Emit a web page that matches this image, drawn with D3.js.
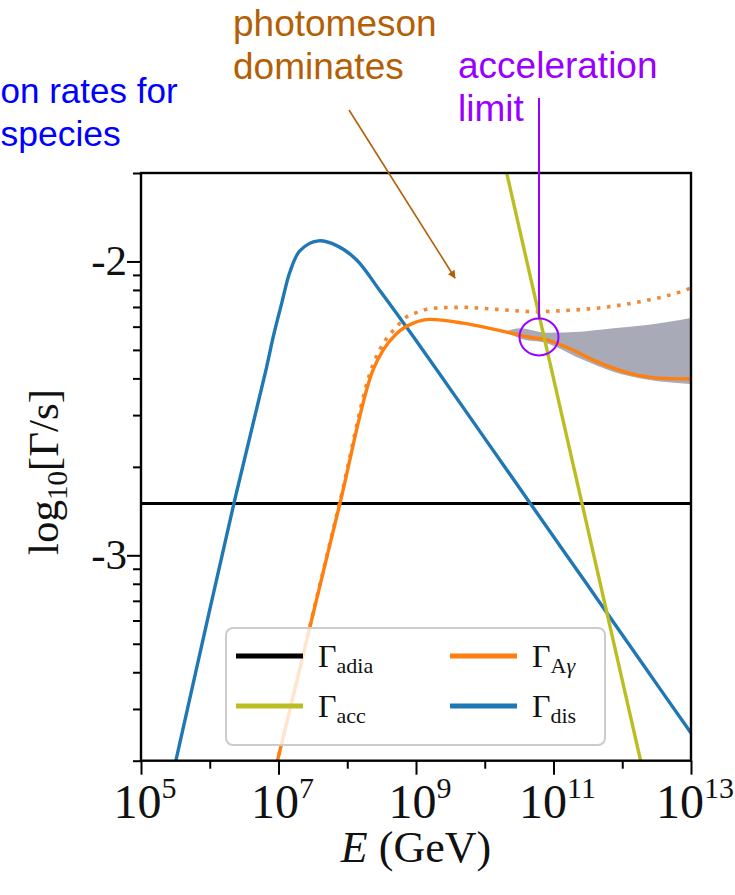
<!DOCTYPE html>
<html>
<head>
<meta charset="utf-8">
<script src="https://cdn.jsdelivr.net/npm/d3@7"></script>
<style>
  html, body { margin: 0; padding: 0; background: #fff; }
  svg { display: block; }
</style>
</head>
<body>
<svg id="chart" width="735" height="895"></svg>
<script>
// ---- data (log10 of energy in GeV, log10 of rate in 1/s) ----
const disLogE = [5.40, 5.509, 6.353, 6.818, 6.924, 7.047, 7.167, 7.313, 7.579, 7.847, 8.137, 8.476, 8.826, 9.204, 10.0, 10.658, 11.5, 12.3, 13.0];
const disLogG = [-3.81, -3.697, -2.822, -2.369, -2.256, -2.142, -2.035, -1.963, -1.930, -1.946, -1.995, -2.100, -2.212, -2.336, -2.602, -2.822, -3.103, -3.371, -3.605];

const accLogE = [10.0, 12.6];
const accLogG = [-1.371, -4.041];

const agLogE = [6.90, 6.985, 7.483, 7.895, 8.375, 8.524, 8.719, 8.961, 9.204, 9.688, 10.174, 10.658, 10.901, 11.192, 11.628, 12.113, 12.597, 13.0];
const agLogG = [-3.781, -3.699, -3.219, -2.822, -2.369, -2.301, -2.245, -2.210, -2.197, -2.210, -2.233, -2.258, -2.267, -2.292, -2.341, -2.381, -2.398, -2.400];

const agMaxLogE = [6.90, 6.985, 7.483, 7.895, 8.375, 8.524, 8.719, 8.865, 8.985, 9.252, 9.688, 10.174, 10.779, 11.095, 11.628, 12.258, 12.888, 13.0];
const agMaxLogG = [-3.781, -3.699, -3.215, -2.815, -2.350, -2.279, -2.222, -2.188, -2.176, -2.159, -2.156, -2.163, -2.171, -2.168, -2.159, -2.137, -2.100, -2.090];

const bandLogE = [10.295, 10.513, 10.901, 11.386, 11.870, 12.356, 13.0];
const bandLoLogG = [-2.239, -2.262, -2.278, -2.330, -2.375, -2.402, -2.417];
const bandHiLogG = [-2.239, -2.2275, -2.2425, -2.239, -2.2275, -2.216, -2.192];

const adiaLogE = [5, 13];
const adiaLogG = [-2.824, -2.824];

const xMajorExp = [5, 7, 9, 11, 13];
const xMinorExp = [6, 8, 10, 12];
const yMajorExp = [-2, -3];

const legendItems = [
  { key: ["adia"], color: "#000000" },
  { key: ["A", "γ"], color: "#ff7f0e" },
  { key: ["acc"], color: "#bcbd22" },
  { key: ["dis"], color: "#1f77b4" }
];

// ---- layout ----
const svg = d3.select("#chart");
const plot = { left: 141, right: 691, top: 173, bottom: 760.7 };

const x = d3.scaleLog().domain([1e5, 1e13]).range([plot.left, plot.right]);
const y = d3.scaleLog().domain([2e-4, 2e-2]).range([plot.bottom, plot.top]);

const p10 = v => Math.pow(10, v);
const zipPts = (ex, ey) => ex.map((e, i) => [p10(e), p10(ey[i])]);

const defs = svg.append("defs");
defs.append("clipPath").attr("id", "plotClip")
  .append("rect")
  .attr("x", plot.left).attr("y", plot.top)
  .attr("width", plot.right - plot.left).attr("height", plot.bottom - plot.top);

const g = svg.append("g").attr("clip-path", "url(#plotClip)");

const line = d3.line().x(d => x(d[0])).y(d => y(d[1])).curve(d3.curveMonotoneX);
const smooth = d3.line().x(d => x(d[0])).y(d => y(d[1])).curve(d3.curveCatmullRom.alpha(0.5));

// uncertainty band of the photomeson rate
const band = bandLogE.map((e, i) => ({ e: p10(e), lo: p10(bandLoLogG[i]), hi: p10(bandHiLogG[i]) }));
g.append("path")
  .datum(band)
  .attr("fill", "#a9aab7")
  .attr("d", d3.area().x(d => x(d.e)).y0(d => y(d.lo)).y1(d => y(d.hi)).curve(d3.curveMonotoneX));

// adiabatic rate
g.append("path").datum(zipPts(adiaLogE, adiaLogG))
  .attr("fill", "none").attr("stroke", "#000").attr("stroke-width", 3)
  .attr("d", d3.line().x(d => x(d[0])).y(d => y(d[1])));

// disintegration rate
g.append("path").datum(zipPts(disLogE, disLogG))
  .attr("fill", "none").attr("stroke", "#1f77b4").attr("stroke-width", 3.4)
  .attr("d", smooth);

// photomeson rate (upper, dotted)
g.append("path").datum(zipPts(agMaxLogE, agMaxLogG))
  .attr("fill", "none").attr("stroke", "#ef8a3c").attr("stroke-width", 3.6)
  .attr("stroke-dasharray", "3.6,6.6")
  .attr("d", line);

// photomeson rate
g.append("path").datum(zipPts(agLogE, agLogG))
  .attr("fill", "none").attr("stroke", "#ff7f0e").attr("stroke-width", 3.4)
  .attr("d", line);

// acceleration rate
g.append("path").datum(zipPts(accLogE, accLogG))
  .attr("fill", "none").attr("stroke", "#bcbd22").attr("stroke-width", 3.4)
  .attr("d", d3.line().x(d => x(d[0])).y(d => y(d[1])));

// ---- axes ----
const serif = "'Liberation Serif', 'DejaVu Serif', serif";

function styleAxis(sel) {
  sel.select(".domain").remove();
  sel.selectAll(".tick line").attr("stroke", "#000").attr("stroke-width", 2);
  sel.selectAll(".tick text").remove();
}

svg.append("g").attr("transform", `translate(0,${plot.bottom})`)
  .call(d3.axisBottom(x).tickValues(xMajorExp.map(p10)).tickSize(14)).call(styleAxis);
svg.append("g").attr("transform", `translate(0,${plot.bottom})`)
  .call(d3.axisBottom(x).tickValues(xMinorExp.map(p10)).tickSize(8)).call(styleAxis);

const yMinor = [];
[-4, -3, -2].forEach(k => { for (let m = 2; m <= 9; m++) { const v = m * p10(k); if (v >= 2e-4 * 0.999 && v <= 2e-2 * 1.001) yMinor.push(v); } });
svg.append("g").attr("transform", `translate(${plot.left},0)`)
  .call(d3.axisLeft(y).tickValues(yMajorExp.map(p10)).tickSize(14)).call(styleAxis);
svg.append("g").attr("transform", `translate(${plot.left},0)`)
  .call(d3.axisLeft(y).tickValues(yMinor).tickSize(8)).call(styleAxis);

// frame
svg.append("rect")
  .attr("x", plot.left).attr("y", plot.top)
  .attr("width", plot.right - plot.left).attr("height", plot.bottom - plot.top)
  .attr("fill", "none").attr("stroke", "#000").attr("stroke-width", 2.4);

// x tick labels 10^n
xMajorExp.forEach(n => {
  const t = svg.append("text")
    .attr("x", x(p10(n)) + 4).attr("y", 818)
    .attr("text-anchor", "middle")
    .attr("font-family", serif).attr("font-size", 48).attr("fill", "#111");
  t.append("tspan").text("10");
  t.append("tspan").attr("dy", -20).attr("font-size", 30).text(String(n));
});

// y tick labels
yMajorExp.forEach(n => {
  svg.append("text")
    .attr("x", 127).attr("y", y(p10(n)) + 14)
    .attr("text-anchor", "end")
    .attr("font-family", serif).attr("font-size", 43).attr("fill", "#111")
    .text(String(n));
});

// axis titles
const xt = svg.append("text")
  .attr("x", 416).attr("y", 862).attr("text-anchor", "middle")
  .attr("font-family", serif).attr("font-size", 44).attr("fill", "#111");
xt.append("tspan").attr("font-style", "italic").text("E");
xt.append("tspan").text(" (GeV)");

const yt = svg.append("text")
  .attr("transform", "translate(58,472) rotate(-90)")
  .attr("text-anchor", "middle")
  .attr("font-family", serif).attr("font-size", 43).attr("fill", "#111");
yt.append("tspan").text("log");
yt.append("tspan").attr("font-size", 29).attr("dy", 9).text("10");
yt.append("tspan").attr("dy", -9).text("[Γ/s]");

// ---- legend ----
const leg = svg.append("g");
leg.append("rect")
  .attr("x", 226).attr("y", 628).attr("width", 379).attr("height", 117).attr("rx", 7)
  .attr("fill", "#fff").attr("fill-opacity", 0.8)
  .attr("stroke", "#cccccc").attr("stroke-width", 2);

const colX = [236, 450];
const rowY = [656, 706];
legendItems.forEach((d, i) => {
  const cx = colX[i % 2], cy = rowY[Math.floor(i / 2)];
  leg.append("line")
    .attr("x1", cx).attr("x2", cx + 67).attr("y1", cy).attr("y2", cy)
    .attr("stroke", d.color).attr("stroke-width", 5);
  const t = leg.append("text")
    .attr("x", cx + 82).attr("y", cy + 11)
    .attr("font-family", serif).attr("font-size", 32).attr("fill", "#111");
  t.append("tspan").text("Γ");
  d.key.forEach((k, j) => {
    const s = t.append("tspan").attr("font-size", 22).text(k);
    if (j === 0) s.attr("dy", 6);
    if (k === "γ") s.attr("font-style", "italic");
  });
});

// ---- annotations ----
const sans = "'Liberation Sans', Arial, sans-serif";
function note(s, xPos, yPos, color, size) {
  svg.append("text")
    .attr("x", xPos).attr("y", yPos)
    .attr("font-family", sans).attr("font-size", size).attr("fill", color)
    .text(s);
}
note("on rates for", 0.5, 103, "#0000ff", 35);
note("species", 0.5, 146, "#0000ff", 35.5);
note("photomeson", 233, 36, "#b45f06", 37);
note("dominates", 233, 79, "#b45f06", 37);
note("acceleration", 458, 78, "#9900ff", 37);
note("limit", 458, 121, "#9900ff", 37);

// arrow to the photomeson plateau
defs.append("marker").attr("id", "arrowBrown")
  .attr("viewBox", "0 0 10 10").attr("refX", 9).attr("refY", 5)
  .attr("markerWidth", 5).attr("markerHeight", 5).attr("orient", "auto")
  .append("path").attr("d", "M0,0 L10,5 L0,10 z").attr("fill", "#b45f06");
svg.append("line")
  .attr("x1", 349).attr("y1", 110).attr("x2", 455).attr("y2", 278)
  .attr("stroke", "#b45f06").attr("stroke-width", 1.6)
  .attr("marker-end", "url(#arrowBrown)");

// marker of the acceleration limit
svg.append("line")
  .attr("x1", 539).attr("y1", 98).attr("x2", 539).attr("y2", 318)
  .attr("stroke", "#9900ff").attr("stroke-width", 2);
svg.append("ellipse")
  .attr("cx", 539).attr("cy", 337).attr("rx", 19.5).attr("ry", 18.5)
  .attr("fill", "none").attr("stroke", "#9900ff").attr("stroke-width", 2);
</script>
</body>
</html>
